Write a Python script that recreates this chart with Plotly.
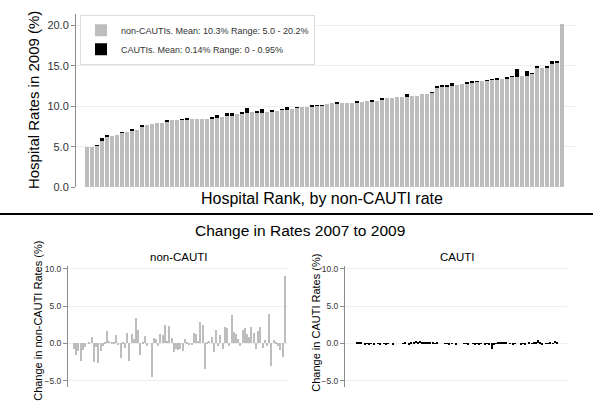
import plotly.graph_objects as go

# hospitals sorted by 2009 non-CAUTI rate (%)
rank = list(range(1, 97))
non_cauti_2009 = [
    5.0, 5.0, 5.2, 5.7, 6.3, 6.3, 6.5, 6.8, 6.9, 7.1, 7.1, 7.6, 7.7, 7.8, 7.9, 7.9,
    8.2, 8.3, 8.3, 8.4, 8.4, 8.5, 8.5, 8.5, 8.5, 8.6, 8.6, 8.7, 8.8, 8.8, 9.1, 9.2,
    9.2, 9.3, 9.2, 9.2, 9.35, 9.35, 9.4, 9.6, 9.7, 9.7, 9.9, 9.9, 9.9, 10.0, 10.1, 10.1,
    10.3, 10.4, 10.4, 10.4, 10.4, 10.4, 10.5, 10.6, 10.7, 10.7, 10.7, 10.9, 11.0, 11.1, 11.2, 11.2,
    11.3, 11.3, 11.3, 11.5, 11.5, 11.7, 12.3, 12.4, 12.5, 12.5, 12.6, 12.8, 12.9, 13.0, 13.1, 13.1,
    13.2, 13.3, 13.4, 13.4, 13.5, 13.7, 13.7, 13.8, 13.8, 14.1, 14.8, 14.8, 14.9, 15.2, 15.4, 20.2,
]
cauti_2009 = [
    0.0, 0.0, 0.05, 0.4, 0.15, 0.0, 0.0, 0.05, 0.0, 0.05, 0.0, 0.05, 0.0, 0.0, 0.0, 0.0,
    0.1, 0.0, 0.0, 0.05, 0.2, 0.0, 0.0, 0.0, 0.0, 0.05, 0.35, 0.0, 0.45, 0.4, 0.0, 0.05,
    0.6, 0.0, 0.3, 0.45, 0.0, 0.25, 0.0, 0.1, 0.2, 0.0, 0.05, 0.0, 0.0, 0.1, 0.05, 0.05,
    0.0, 0.0, 0.1, 0.0, 0.0, 0.0, 0.1, 0.0, 0.0, 0.05, 0.0, 0.1, 0.0, 0.0, 0.0, 0.0,
    0.2, 0.0, 0.0, 0.0, 0.0, 0.05, 0.25, 0.3, 0.1, 0.35, 0.0, 0.0, 0.05, 0.05, 0.05, 0.0,
    0.05, 0.05, 0.05, 0.0, 0.05, 0.05, 0.93, 0.0, 0.6, 0.05, 0.15, 0.0, 0.05, 0.4, 0.15, 0.0,
]
# change 2007 -> 2009 (percentage points)
non_cauti_change = [
    -0.8, -1.5, -1.0, -2.4, -0.9, -0.5, 0.0, 0.1, 0.8, -2.5, -0.5, -2.7, -1.0, -0.4, 0.1, 1.6,
    0.3, 0.2, 0.1, 1.1, -0.1, -2.0, 0.2, -0.6, 1.4, -2.4, 1.3, 0.6, 3.4, 1.8, -1.6, 0.1,
    1.0, -0.3, 0.0, -4.5, 0.7, 0.6, -0.4, 1.3, 1.1, 2.5, 0.3, 2.3, 0.7, -1.1, -0.8, -0.9,
    -0.7, -1.0, 0.6, 0.2, -0.1, -0.2, 1.4, 1.2, 0.3, 2.8, 2.5, -3.5, 0.1, 0.3, 0.8, -1.2,
    1.8, -0.4, 1.1, -0.8, 2.2, 2.1, -0.3, 3.8, 1.5, 1.2, 0.6, -0.3, 1.8, 2.0, 1.2, 0.9,
    2.2, 1.4, -0.7, 1.6, 2.2, -0.6, 0.5, -0.4, 4.0, -3.0, 0.4, 0.1, -0.3, -0.9, -1.9, 9.0,
]
cauti_change = [
    0.1, 0.2, 0.1, 0.0, -0.1, -0.05, -0.1, -0.05, -0.1, 0.0, -0.05, -0.1, 0.0, -0.05, -0.1, -0.05,
    0.0, -0.1, 0.0, 0.0, 0.0, 0.0, -0.05, 0.1, 0.0, -0.1, 0.2, 0.15, 0.3, 0.2, 0.35, 0.1,
    0.15, 0.2, 0.1, 0.15, 0.1, -0.05, 0.1, 0.0, 0.0, 0.0, -0.05, 0.05, -0.1, 0.05, 0.0, -0.1,
    0.0, 0.0, 0.0, -0.05, 0.05, -0.1, 0.0, -0.05, -0.1, 0.05, -0.1, -0.05, 0.0, -0.1, 0.05, -0.15,
    -0.7, -0.1, 0.05, 0.1, 0.15, 0.2, 0.1, 0.15, 0.0, -0.05, -0.1, -0.05, 0.0, 0.0, -0.1, 0.05,
    -0.15, 0.0, 0.1, 0.05, 0.1, 0.2, 0.5, 0.1, -0.1, 0.0, 0.05, -0.05, 0.1, 0.05, 0.35, 0.1,
]

FONT = "Liberation Sans"
GREY = "#bdbdbd"

fig = go.Figure()
fig.add_trace(go.Bar(x=rank, y=non_cauti_2009, name="non-CAUTIs. Mean: 10.3% Range: 5.0 - 20.2%",
                     marker=dict(color=GREY, line=dict(width=0)), width=0.66,
                     xaxis="x", yaxis="y"))
fig.add_trace(go.Bar(x=rank, y=cauti_2009, name="CAUTIs. Mean: 0.14% Range: 0 - 0.95%",
                     marker=dict(color="black", line=dict(width=0)), width=0.66,
                     xaxis="x", yaxis="y"))
fig.add_trace(go.Bar(x=rank, y=non_cauti_change, showlegend=False,
                     marker=dict(color=GREY, line=dict(width=0)), width=0.55,
                     xaxis="x2", yaxis="y2"))
fig.add_trace(go.Bar(x=rank, y=cauti_change, showlegend=False,
                     marker=dict(color="black", line=dict(width=0)), width=0.55,
                     xaxis="x3", yaxis="y3"))

yax = dict(showline=True, linecolor="#8c8c8c", linewidth=1, ticks="outside", ticklen=4,
           tickcolor="#8c8c8c", gridcolor="#efefef", zeroline=False, tickformat=".1f")
xax = dict(showticklabels=False, showgrid=False, zeroline=False, showline=False, ticks="")

fig.update_layout(
    width=600, height=420,
    margin=dict(l=0, r=0, t=0, b=0),
    paper_bgcolor="white", plot_bgcolor="white",
    font=dict(family=FONT, color="#333333"),
    barmode="stack",
    showlegend=True,
    hovermode=False,
    legend=dict(x=80/600, y=1-13/420, xanchor="left", yanchor="top",
                bordercolor="#dddddd", borderwidth=1, traceorder="normal",
                font=dict(size=9, color="#333333"), bgcolor="white",
                tracegroupgap=2),
    xaxis=dict(xax, domain=[76/600, 576/600], range=[-1.2, 98.8]),
    yaxis=dict(yax, domain=[1-189/420, 1-12/420], range=[0, 21.45],
               tickvals=[0, 5, 10, 15, 20], tickfont=dict(size=11, color="#333333"),
               anchor="x"),
    xaxis2=dict(xax, domain=[68/600, 288/600], range=[-1.7, 97.4], anchor="y2"),
    yaxis2=dict(yax, domain=[1-392/420, 1-269/420], range=[-5.8, 10.4],
                tickvals=[-5, 0, 5, 10], tickfont=dict(size=8.5, color="#333333"),
                anchor="x2"),
    xaxis3=dict(xax, domain=[345/600, 567/600], range=[-4.6, 100.8], anchor="y3"),
    yaxis3=dict(yax, domain=[1-392/420, 1-269/420], range=[-5.8, 10.4],
                tickvals=[-5, 0, 5, 10], tickfont=dict(size=8.5, color="#333333"),
                anchor="x3"),
)

ann = [
    dict(text="Hospital Rates in 2009 (%)", x=33/600, y=1-100/420, textangle=-90, size=15),
    dict(text="Hospital Rank, by non-CAUTI rate", x=322/600, y=1-200/420, textangle=0, size=16),
    dict(text="Change in Rates 2007 to 2009", x=300/600, y=1-233/420, textangle=0, size=15.5),
    dict(text="non-CAUTI", x=179/600, y=1-260/420, textangle=0, size=11.5),
    dict(text="CAUTI", x=457/600, y=1-260/420, textangle=0, size=11.5),
    dict(text="Change in non-CAUTI Rates (%)", x=38/600, y=1-325/420, textangle=-90, size=11),
    dict(text="Change in CAUTI Rates (%)", x=316/600, y=1-327/420, textangle=-90, size=11),
]
for a in ann:
    fig.add_annotation(text=a["text"], x=a["x"], y=a["y"], xref="paper", yref="paper",
                       showarrow=False, textangle=a["textangle"],
                       xanchor="center", yanchor="middle",
                       font=dict(family=FONT, size=a["size"], color="black"))

# separator line between panels
fig.add_shape(type="line", xref="paper", yref="paper", x0=0, x1=593/600,
              y0=1-216/420, y1=1-216/420, line=dict(color="black", width=2))

# drop the default page margin so the figure sits at the window's top-left corner
fig.write_html("out.html", config={"displayModeBar": False},
               post_script="document.body.style.margin='0';")
